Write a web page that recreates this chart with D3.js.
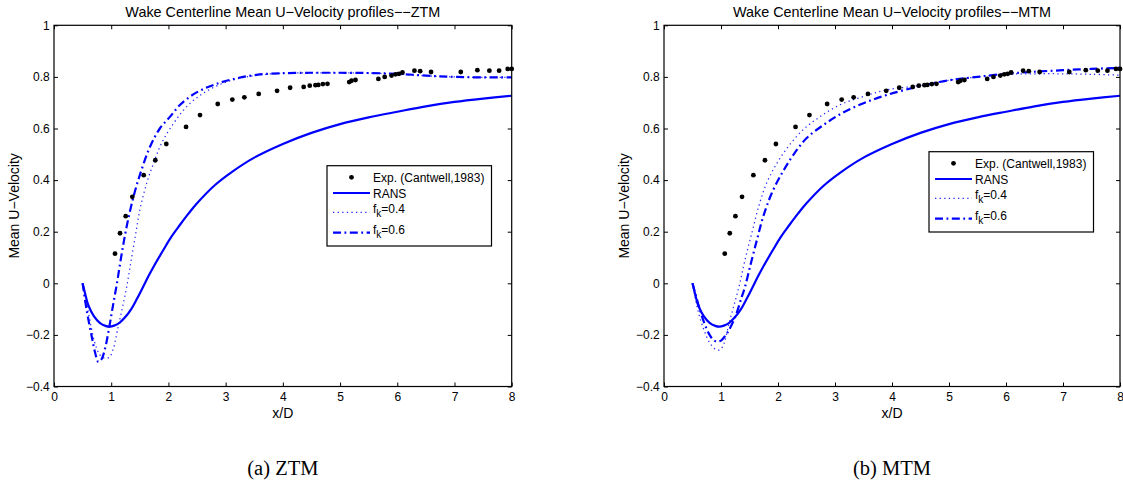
<!DOCTYPE html>
<html>
<head>
<meta charset="utf-8">
<script src="https://cdn.jsdelivr.net/npm/d3@7"></script>
<style>
  html, body { margin: 0; padding: 0; background: #fff; }
  svg { display: block; }
  text { font-family: "Liberation Sans", Arial, Helvetica, sans-serif; fill: #000; }
</style>
</head>
<body>
<svg id="chart" width="1123" height="485"></svg>
<script>
// ---- data -------------------------------------------------------------
const xTicks = [0, 1, 2, 3, 4, 5, 6, 7, 8];
const yTicks = [-0.4, -0.2, 0, 0.2, 0.4, 0.6, 0.8, 1];

// Cantwell (1983) measurements: [x/D, U]
const expPoints = [
  [1.066, 0.115], [1.154, 0.194], [1.253, 0.260], [1.369, 0.335], [1.568, 0.419],
  [1.771, 0.477], [1.963, 0.540], [2.308, 0.606], [2.552, 0.652], [2.862, 0.695],
  [3.117, 0.712], [3.327, 0.721], [3.578, 0.734], [3.899, 0.746], [4.127, 0.758],
  [4.364, 0.761], [4.470, 0.766], [4.570, 0.768], [4.620, 0.769], [4.700, 0.772],
  [4.780, 0.773], [5.160, 0.780], [5.200, 0.785], [5.270, 0.788], [5.670, 0.792],
  [5.780, 0.800], [5.900, 0.805], [5.970, 0.810], [6.030, 0.812], [6.090, 0.817],
  [6.300, 0.824], [6.400, 0.822], [6.590, 0.819], [7.110, 0.819], [7.400, 0.826],
  [7.610, 0.824], [7.780, 0.824], [7.930, 0.831], [8.000, 0.831]
];

// RANS centerline profile (same in both panels)
const ransCurve = [
  [0.5, 0], [0.55, -0.045], [0.6, -0.085], [0.7, -0.128], [0.8, -0.153], [0.9, -0.165],
  [0.97, -0.168], [1.05, -0.164], [1.15, -0.152], [1.25, -0.13], [1.35, -0.1],
  [1.45, -0.06], [1.55, -0.017], [1.65, 0.027], [1.75, 0.068], [1.9, 0.125],
  [2.05, 0.18], [2.2, 0.226], [2.35, 0.27], [2.5, 0.31], [2.8, 0.378], [3.1, 0.43],
  [3.5, 0.487], [4, 0.54], [4.5, 0.583], [5, 0.617], [5.5, 0.643], [6, 0.665],
  [6.5, 0.686], [7, 0.703], [7.5, 0.716], [8, 0.727]
];

// ZTM, fk = 0.4
const ztmFk04 = [
  [0.5, 0], [0.55, -0.05], [0.6, -0.11], [0.65, -0.17], [0.7, -0.22], [0.75, -0.255],
  [0.8, -0.277], [0.88, -0.29], [0.96, -0.288], [1.03, -0.258], [1.12, -0.17],
  [1.2, -0.09], [1.27, -0.015], [1.33, 0.065], [1.42, 0.181], [1.5, 0.284],
  [1.62, 0.388], [1.74, 0.465], [1.88, 0.543], [2.09, 0.62], [2.32, 0.685],
  [2.61, 0.737], [2.96, 0.776], [3.3, 0.797], [3.7, 0.81], [4.2, 0.815], [5, 0.816],
  [5.5, 0.815], [6, 0.811], [6.5, 0.804], [7, 0.8], [7.5, 0.798], [8, 0.798]
];

// ZTM, fk = 0.6
const ztmFk06 = [
  [0.5, 0], [0.57, -0.103], [0.66, -0.207], [0.72, -0.27], [0.775, -0.305], [0.83, -0.295],
  [0.89, -0.255], [0.95, -0.19], [1.02, -0.1], [1.1, 0.0], [1.18, 0.11], [1.27, 0.22],
  [1.39, 0.336], [1.53, 0.44], [1.68, 0.53], [1.85, 0.6], [2.03, 0.646], [2.2, 0.691],
  [2.47, 0.737], [2.79, 0.769], [3.14, 0.792], [3.54, 0.808], [3.95, 0.814],
  [4.5, 0.816], [5, 0.816], [5.5, 0.815], [6, 0.812], [6.5, 0.805], [7, 0.8],
  [7.5, 0.798], [8, 0.798]
];

// MTM, fk = 0.4
const mtmFk04 = [
  [0.5, 0], [0.6, -0.11], [0.7, -0.18], [0.8, -0.23], [0.9, -0.255], [0.98, -0.258],
  [1.05, -0.235], [1.12, -0.175], [1.19, -0.115], [1.26, -0.06], [1.33, 0.0],
  [1.42, 0.09], [1.54, 0.194], [1.66, 0.297], [1.8, 0.388], [1.98, 0.465],
  [2.18, 0.53], [2.44, 0.595], [2.74, 0.646], [3.09, 0.692], [3.5, 0.724],
  [3.91, 0.75], [4.47, 0.766], [5, 0.787], [5.5, 0.8], [6, 0.81], [6.5, 0.812],
  [7, 0.812], [7.5, 0.81], [8, 0.807]
];

// MTM, fk = 0.6
const mtmFk06 = [
  [0.5, 0], [0.6, -0.08], [0.7, -0.15], [0.8, -0.2], [0.87, -0.22], [0.93, -0.226],
  [1.0, -0.222], [1.07, -0.205], [1.13, -0.185], [1.25, -0.13], [1.36, -0.055],
  [1.42, -0.015], [1.51, 0.065], [1.63, 0.168], [1.74, 0.258], [1.89, 0.349],
  [2.07, 0.427], [2.27, 0.498], [2.5, 0.562], [2.8, 0.614], [3.12, 0.659],
  [3.5, 0.698], [3.91, 0.73], [4.47, 0.763], [5, 0.787], [5.5, 0.8], [6, 0.812],
  [6.5, 0.82], [7, 0.826], [7.5, 0.831], [8, 0.835]
];

const titles = [
  "Wake Centerline Mean U\u2212Velocity profiles\u2212\u2212ZTM",
  "Wake Centerline Mean U\u2212Velocity profiles\u2212\u2212MTM"
];
const captions = ["(a) ZTM", "(b) MTM"];
const legendLabels = ["Exp. (Cantwell,1983)", "RANS", "0.4", "0.6"];
const xLabel = "x/D";
const yLabel = "Mean U\u2212Velocity";

// ---- layout -------------------------------------------------------------
const panels = [
  { left: 54, right: 511.7, legend: { x: 327, y: 165.7 }, title: titles[0], caption: captions[0], fk04: ztmFk04, fk06: ztmFk06 },
  { left: 664, right: 1120, legend: { x: 929, y: 151.7 }, title: titles[1], caption: captions[1], fk04: mtmFk04, fk06: mtmFk06 }
];
const plotTop = 25.3, plotBottom = 386.5;
const blue = "#0000ff";
const styles = {
  rans: { width: 2.2, dash: null, opacity: 1 },
  fk04: { width: 1.25, dash: "1.3,3.3", opacity: 0.85 },
  fk06: { width: 2.2, dash: "8,3.5,1.8,3.5", opacity: 1 }
};

const svg = d3.select("#chart");

function drawPanel(p) {
  const x = d3.scaleLinear().domain([0, 8]).range([p.left, p.right]);
  const y = d3.scaleLinear().domain([-0.4, 1]).range([plotBottom, plotTop]);
  const g = svg.append("g");
  const fmt = d3.format("~g");

  // axes with inward ticks on all four sides
  const ax = [
    g.append("g").attr("transform", `translate(0,${plotBottom})`)
      .call(d3.axisBottom(x).tickValues(xTicks).tickSize(-4).tickPadding(6).tickFormat(fmt)),
    g.append("g").attr("transform", `translate(0,${plotTop})`)
      .call(d3.axisTop(x).tickValues(xTicks).tickSize(-4).tickFormat("")),
    g.append("g").attr("transform", `translate(${p.left},0)`)
      .call(d3.axisLeft(y).tickValues(yTicks).tickSize(-4).tickPadding(4.3).tickFormat(fmt)),
    g.append("g").attr("transform", `translate(${p.right},0)`)
      .call(d3.axisRight(y).tickValues(yTicks).tickSize(-4).tickFormat(""))
  ];
  ax.forEach(a => {
    a.select(".domain").remove();
    a.selectAll(".tick line").attr("stroke", "#000").attr("stroke-width", 1);
    a.selectAll(".tick text").style("font-size", "12px").style("font-family", '"Liberation Sans", Arial, sans-serif').attr("fill", "#000");
  });

  // data lines
  const line = d3.line().x(d => x(d[0])).y(d => y(d[1])).curve(d3.curveCatmullRom.alpha(0.5));
  [[ransCurve, styles.rans], [p.fk04, styles.fk04], [p.fk06, styles.fk06]].forEach(([data, s]) => {
    g.append("path").datum(data).attr("d", line)
      .attr("fill", "none").attr("stroke", blue)
      .attr("stroke-width", s.width).attr("stroke-opacity", s.opacity)
      .attr("stroke-dasharray", s.dash);
  });

  // experiment markers
  g.append("g").selectAll("circle").data(expPoints).join("circle")
    .attr("cx", d => x(d[0])).attr("cy", d => y(d[1])).attr("r", 2.4).attr("fill", "#000");

  // frame
  g.append("rect").attr("x", p.left).attr("y", plotTop)
    .attr("width", p.right - p.left).attr("height", plotBottom - plotTop)
    .attr("fill", "none").attr("stroke", "#000").attr("stroke-width", 1.2);

  const cx = (p.left + p.right) / 2;
  g.append("text").attr("x", cx).attr("y", 16.7).attr("text-anchor", "middle")
    .style("font-size", "14.4px").text(p.title);
  g.append("text").attr("x", cx).attr("y", 418).attr("text-anchor", "middle")
    .style("font-size", "14px").text(xLabel);
  g.append("text").attr("transform", `translate(${p.left - 40},${(plotTop + plotBottom) / 2}) rotate(-90)`)
    .attr("dy", "0.35em").attr("text-anchor", "middle")
    .style("font-size", "14px").text(yLabel);
  g.append("text").attr("x", cx).attr("y", 475).attr("text-anchor", "middle")
    .style("font-family", '"Liberation Serif", "DejaVu Serif", serif').style("font-size", "20.5px")
    .text(p.caption);

  // legend
  const L = g.append("g").attr("transform", `translate(${p.legend.x},${p.legend.y})`);
  L.append("rect").attr("width", 164.5).attr("height", 80.3)
    .attr("fill", "#fff").attr("stroke", "#000").attr("stroke-width", 1.2);
  const sx0 = 6, sx1 = 43, tx = 46;
  L.append("circle").attr("cx", (sx0 + sx1) / 2).attr("cy", 11.6).attr("r", 2.4).attr("fill", "#000");
  L.append("text").attr("x", tx).attr("y", 15.9).style("font-size", "12px").text(legendLabels[0]);
  const rows = [
    { s: styles.rans, ly: 27.3, ty: 31.9, sub: false, label: legendLabels[1] },
    { s: styles.fk04, ly: 46.6, ty: 46.9, sub: true, label: legendLabels[2] },
    { s: styles.fk06, ly: 67, ty: 67.9, sub: true, label: legendLabels[3] }
  ];
  rows.forEach(r => {
    L.append("line").attr("x1", sx0).attr("x2", sx1).attr("y1", r.ly).attr("y2", r.ly)
      .attr("stroke", blue).attr("stroke-width", r.s.width).attr("stroke-opacity", r.s.opacity)
      .attr("stroke-dasharray", r.s.dash);
    const t = L.append("text").attr("x", tx).attr("y", r.ty).style("font-size", "12px");
    if (r.sub) {
      t.append("tspan").text("f");
      t.append("tspan").attr("dy", 4.5).style("font-size", "10px").text("k");
      t.append("tspan").attr("dy", -4.5).text("=" + r.label);
    } else {
      t.text(r.label);
    }
  });
}

panels.forEach(drawPanel);
</script>
</body>
</html>
